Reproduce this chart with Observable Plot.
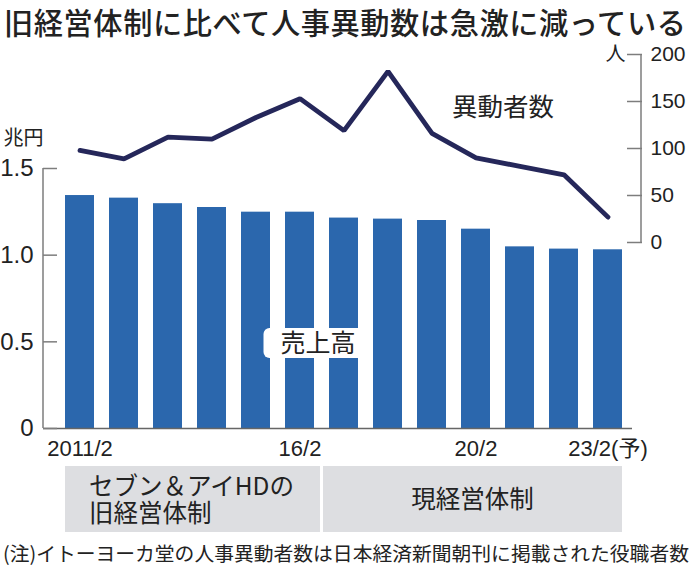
<!DOCTYPE html>
<html><head><meta charset="utf-8">
<script src="https://cdn.jsdelivr.net/npm/d3@7"></script>
<script src="https://cdn.jsdelivr.net/npm/@observablehq/plot@0.6"></script>
<style>
body{margin:0;background:#fff;}
#wrap{position:relative;width:696px;height:567px;overflow:hidden;background:#fff;font-family:"Noto Sans CJK JP",sans-serif;color:#222;}
#title{position:absolute;left:4px;top:2px;font-size:29.2px;line-height:38px;font-weight:500;letter-spacing:0.6px;white-space:nowrap;}
#chart{position:absolute;left:0;top:40px;}
#note{position:absolute;left:3px;top:541px;font-size:19.8px;line-height:24px;white-space:nowrap;}
</style></head>
<body><div id="wrap">
<div id="title">旧経営体制に比べて人事異動数は急激に減っている</div>
<div id="chart"></div>
<div id="note">(注)イトーヨーカ堂の人事異動者数は日本経済新聞朝刊に掲載された役職者数</div>
</div>
<script>
// ---- data ----
const years = ["2011/2","12/2","13/2","14/2","15/2","16/2","17/2","18/2","19/2","20/2","21/2","22/2","23/2"];
const sales = [1.344,1.329,1.297,1.275,1.248,1.248,1.214,1.208,1.200,1.150,1.048,1.035,1.031]; // 兆円
const transfers = [98,89,112,110,133,153,119,182,116,90,81,72,27]; // 人
const leftTicks = [0,0.5,1.0,1.5];
const rightTicks = [0,50,100,150,200];
const xTickValues = ["2011/2","16/2","20/2","23/2"];
const xTickText = ["2011/2","16/2","20/2","23/2(予)"];
const periodLabels = [["セブン＆アイHDの","旧経営体制"],["現経営体制"]];
const periodStart = ["2011/2","17/2"];
const periodEnd = ["16/2","23/2"];
const unitLeft = "兆円", unitRight = "人";
const barLabel = "売上高", lineLabel = "異動者数";

const rows = years.map((year,i)=>({year, sales: sales[i], people: transfers[i]}));

// right axis (人) expressed in left-axis units
const toLeft = d3.scaleLinear([0,200],[1.0731,2.1577]);

const NUM = '"Liberation Sans","Noto Sans CJK JP",sans-serif';
const CJK = '"Noto Sans CJK JP",sans-serif';

function axisLines(index, {y}, values, dims){
  const g = d3.create("svg:g").attr("stroke","#7d7d7d").attr("stroke-width",1.5);
  const xl = dims.marginLeft, xr = dims.width - dims.marginRight;
  g.append("line").attr("x1",xl).attr("x2",xl).attr("y1",y(leftTicks[0])).attr("y2",y(leftTicks[leftTicks.length-1]));
  g.append("line").attr("x1",xr).attr("x2",xr).attr("y1",y(toLeft(rightTicks[0]))).attr("y2",y(toLeft(rightTicks[rightTicks.length-1])));
  return g.node();
}

function barLabelBox(index, {x, y}){
  const cx = x("16/2") + x.bandwidth()/2 + 18, cy = y(0.49);
  const g = d3.create("svg:g");
  g.append("rect").attr("x",cx-54).attr("y",cy-15).attr("width",108).attr("height",30).attr("rx",6).attr("fill","#fff");
  return g.node();
}

function periods(index, {x}, values, dims){
  const g = d3.create("svg:g").attr("font-family",CJK).attr("font-size",24.5).attr("fill","#222");
  const bw = x.bandwidth(), gap = x.step() - bw;
  const base = dims.height - dims.marginBottom;
  const y0 = base + 38, y1 = base + 104, cy = (y0+y1)/2;
  periodStart.forEach((s,i)=>{
    const x0 = i===0 ? x(s) : x(s) - gap/2 + 1.5;
    const x1 = i===periodStart.length-1 ? x(periodEnd[i]) + bw : x(periodEnd[i]) + bw + gap/2 - 1.5;
    g.append("rect").attr("x",x0).attr("y",y0).attr("width",x1-x0).attr("height",y1-y0).attr("fill","#dddee1");
    const lines = periodLabels[i];
    const lh = 27;
    lines.forEach((t,j)=>{
      const ty = cy + (j - (lines.length-1)/2)*lh;
      const tx = lines.length>1 ? x0 + 24 : (x0+x1)/2;
      g.append("text").attr("x",tx).attr("y",ty).attr("dy","0.38em")
        .attr("text-anchor", lines.length>1 ? "start" : "middle").text(t);
    });
  });
  return g.node();
}

const plot = Plot.plot({
  width: 696,
  height: 495,
  marginLeft: 43,
  marginRight: 55,
  marginTop: 0,
  marginBottom: 107,
  style: {fontFamily: NUM, fontSize: "20px", color: "#222", background: "transparent", overflow: "visible"},
  x: {domain: years, range: [47.4, 640], padding: 0.35, label: null},
  y: {domain: [0, 1.5], range: [388, 128], label: null},
  marks: [
    Plot.barY(rows, {x: "year", y: "sales", fill: "#2b67ad"}),
    Plot.ruleY([0], {stroke: "#666", strokeWidth: 1.5, insetRight: 9}),
    axisLines,
    Plot.axisY(leftTicks, {anchor: "left", label: null, tickSize: -14, tickPadding: 24, stroke: "#7d7d7d", strokeWidth: 1.5,
      tickFormat: d => d === 0 ? "0" : d.toFixed(1), fontSize: 24}),
    Plot.axisY(rightTicks.map(toLeft), {anchor: "right", label: null, tickSize: -15, tickPadding: 24, stroke: "#7d7d7d", strokeWidth: 1.5,
      tickFormat: v => String(Math.round(toLeft.invert(v))), fontSize: 21}),
    Plot.axisX(xTickValues, {anchor: "bottom", label: null, tickSize: 0, tickPadding: 12, fontSize: 22,
      tickFormat: d => xTickText[xTickValues.indexOf(d)]}),
    Plot.text([unitLeft], {frameAnchor: "left", y: () => 1.5, dx: -40, dy: -30, textAnchor: "start", fontSize: 20, fontFamily: CJK}),
    Plot.text([unitRight], {frameAnchor: "right", y: () => toLeft(200), dx: -16, textAnchor: "end", fontSize: 20, fontFamily: CJK}),
    Plot.line(rows, {x: "year", y: d => toLeft(d.people), stroke: "#25275a", strokeWidth: 4.8, strokeLinejoin: "miter"}),
    Plot.text([lineLabel], {x: () => "20/2", y: () => toLeft(143), dx: 27, fontSize: 25.5, fontFamily: CJK}),
    barLabelBox,
    Plot.text([barLabel], {x: () => "16/2", y: () => 0.49, dx: 18, fontSize: 25, fontFamily: CJK}),
    periods
  ]
});
document.getElementById("chart").appendChild(plot);
</script>
</body></html>
